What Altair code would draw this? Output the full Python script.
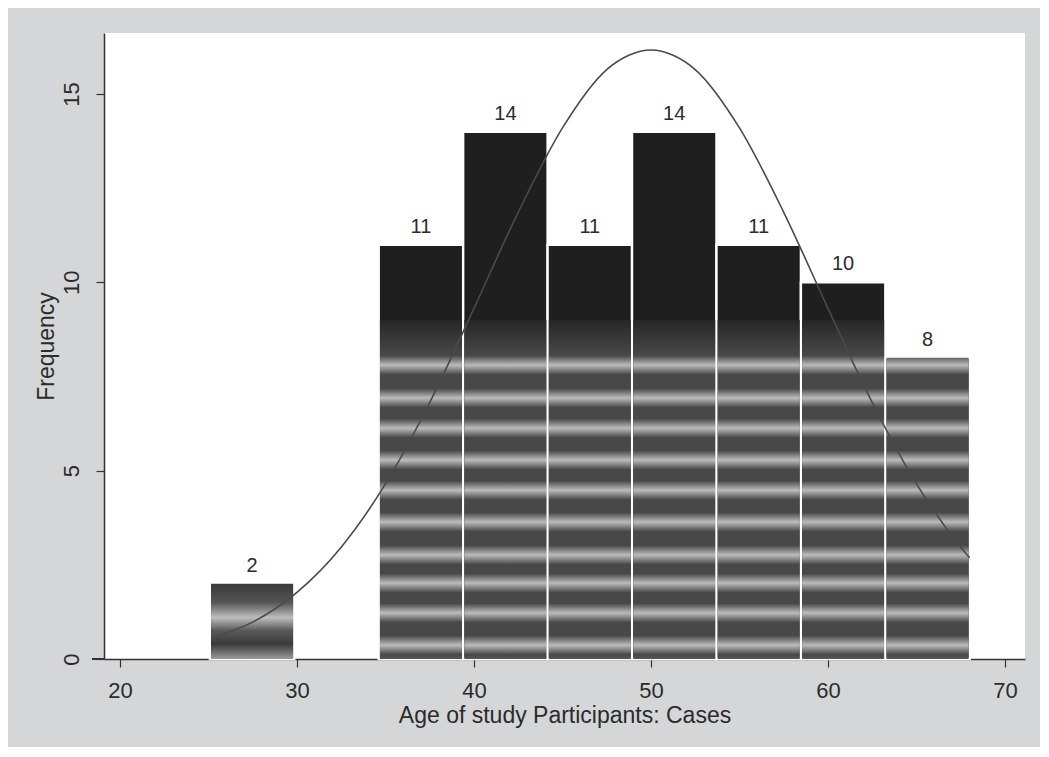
import altair as alt
import pandas as pd

# ---- data ----
bin_start = [25.08, 34.62, 39.39, 44.16, 48.93, 53.70, 58.47, 63.24]
bin_end = [29.85, 39.39, 44.16, 48.93, 53.70, 58.47, 63.24, 68.01]
counts = [2, 11, 14, 11, 14, 11, 10, 8]

curve_x = [25.3, 27.5, 30.0, 32.5, 35.0, 37.5, 40.0, 42.5, 45.0, 47.5, 48.75,
           50.0, 51.25, 52.5, 55.0, 57.5, 60.0, 62.5, 65.0, 67.5, 68.0]
curve_y = [0.58, 0.98, 1.77, 2.97, 4.65, 6.81, 9.31, 11.86, 14.10, 15.65, 16.03,
           16.17, 16.03, 15.65, 14.10, 11.86, 9.31, 6.81, 4.65, 2.97, 2.69]

x_ticks = [20, 30, 40, 50, 60, 70]
y_ticks = [0, 5, 10, 15]

bars = pd.DataFrame({"start": bin_start, "end": bin_end, "count": counts})
curve = pd.DataFrame({"age": curve_x, "freq": curve_y})

FONT = "Liberation Sans"
TXT = "#2b2b2b"
W, H = 921, 626
TEX_TOP = 9.0  # height at which the dark cap gives way to the striped texture

xs = alt.Scale(domain=[19.1, 71.13], nice=False, zero=False)
ys = alt.Scale(domain=[0, 16.62], nice=False)

x_axis = alt.Axis(values=x_ticks, title="Age of study Participants: Cases", grid=False,
                  domainColor="#333", domainWidth=1.5, tickColor="#333", tickWidth=1.2,
                  tickSize=8, labelFont=FONT, labelFontSize=22, labelColor=TXT,
                  labelPadding=13, titleFont=FONT, titleFontSize=23, titleFontWeight="normal",
                  titleColor=TXT, titleBaseline="top", titleY=45)
y_axis = alt.Axis(values=y_ticks, title="Frequency", grid=False,
                  domainColor="#333", domainWidth=1.5, tickColor="#333", tickWidth=1.2,
                  tickSize=8, labelFont=FONT, labelFontSize=22, labelColor=TXT,
                  labelAngle=-90, labelAlign="center", labelBaseline="bottom",
                  labelPadding=13, titleFont=FONT, titleFontSize=23, titleFontWeight="normal",
                  titleColor=TXT, titleAngle=-90, titleAlign="center", titleBaseline="bottom",
                  titleX=-46, titleY=313)

# striped grey texture for the lower part of the bars
stripe_centres = [0.133, 0.230, 0.319, 0.413, 0.502, 0.596, 0.693, 0.776, 0.864, 0.959]
stops = [alt.GradientStop(color="#262626", offset=0.0),
         alt.GradientStop(color="#444444", offset=0.09)]
for c in stripe_centres:
    stops += [alt.GradientStop(color="#484848", offset=c - 0.028),
              alt.GradientStop(color="#bcbcbc", offset=c),
              alt.GradientStop(color="#484848", offset=c + 0.028)]
stops.append(alt.GradientStop(color="#555555", offset=1.0))
tall_grad = alt.Gradient(gradient="linear", stops=stops, x1=0, x2=0, y1=0, y2=1)
# same texture for the 8-high bar, stretched so its stripes line up with the others
short_grad = alt.Gradient(gradient="linear", stops=stops, x1=0, x2=0,
                          y1=1 - TEX_TOP / 8.0, y2=1)

small_grad = alt.Gradient(gradient="linear", x1=0, x2=0, y1=0, y2=1, stops=[
    alt.GradientStop(color="#3a3a3a", offset=0.0),
    alt.GradientStop(color="#555555", offset=0.25),
    alt.GradientStop(color="#bdbdbd", offset=0.45),
    alt.GradientStop(color="#5a5a5a", offset=0.62),
    alt.GradientStop(color="#3a3a3a", offset=0.8),
    alt.GradientStop(color="#9a9a9a", offset=1.0)])

base = alt.Chart(bars).transform_calculate(
    lower=f"datum.count >= 5 ? min(datum.count, {TEX_TOP}) : datum.count",
    mid="(datum.start + datum.end) / 2",
    zero="0",
)

full = base.mark_bar(fill="#1f1f1f", stroke="white", strokeWidth=2.4).encode(
    x=alt.X("start:Q", scale=xs, axis=x_axis),
    x2="end:Q",
    y=alt.Y("count:Q", scale=ys, axis=y_axis),
    y2="zero:Q",
)


def lower_layer(cond, grad):
    return base.transform_filter(cond).mark_bar(
        fill=grad, strokeWidth=0, xOffset=1.2, x2Offset=-1.2).encode(
        x=alt.X("start:Q", scale=xs), x2="end:Q",
        y=alt.Y("lower:Q", scale=ys), y2="zero:Q")


lower_tall = lower_layer(f"datum.count >= {TEX_TOP}", tall_grad)
lower_mid = lower_layer(f"datum.count >= 5 && datum.count < {TEX_TOP}", short_grad)
lower_small = lower_layer("datum.count < 5", small_grad)

line = alt.Chart(curve).mark_line(color="#4a4a4a", strokeWidth=1.6,
                                  interpolate="monotone").encode(
    x=alt.X("age:Q", scale=xs), y=alt.Y("freq:Q", scale=ys))

labels = base.mark_text(dy=-12, baseline="alphabetic", fontSize=20, font=FONT,
                        color=TXT).encode(
    x=alt.X("mid:Q", scale=xs), y=alt.Y("count:Q", scale=ys), text="count:Q")

axis_ext = alt.Chart(bars).mark_rule(color="#333", strokeWidth=1.5).encode(
    x=alt.value(-12), x2=alt.value(0), y=alt.value(H))

chart = alt.layer(full, lower_tall, lower_mid, lower_small, line, labels, axis_ext).properties(
    width=W, height=H,
    autosize=alt.AutoSizeParams(type="none"),
    padding={"left": 96, "top": 25, "right": 15, "bottom": 88},
    background="#d4d6d7",
).configure_view(stroke=None, fill="white")

chart.save("out.html", embed_options={"renderer": "svg", "actions": False})
